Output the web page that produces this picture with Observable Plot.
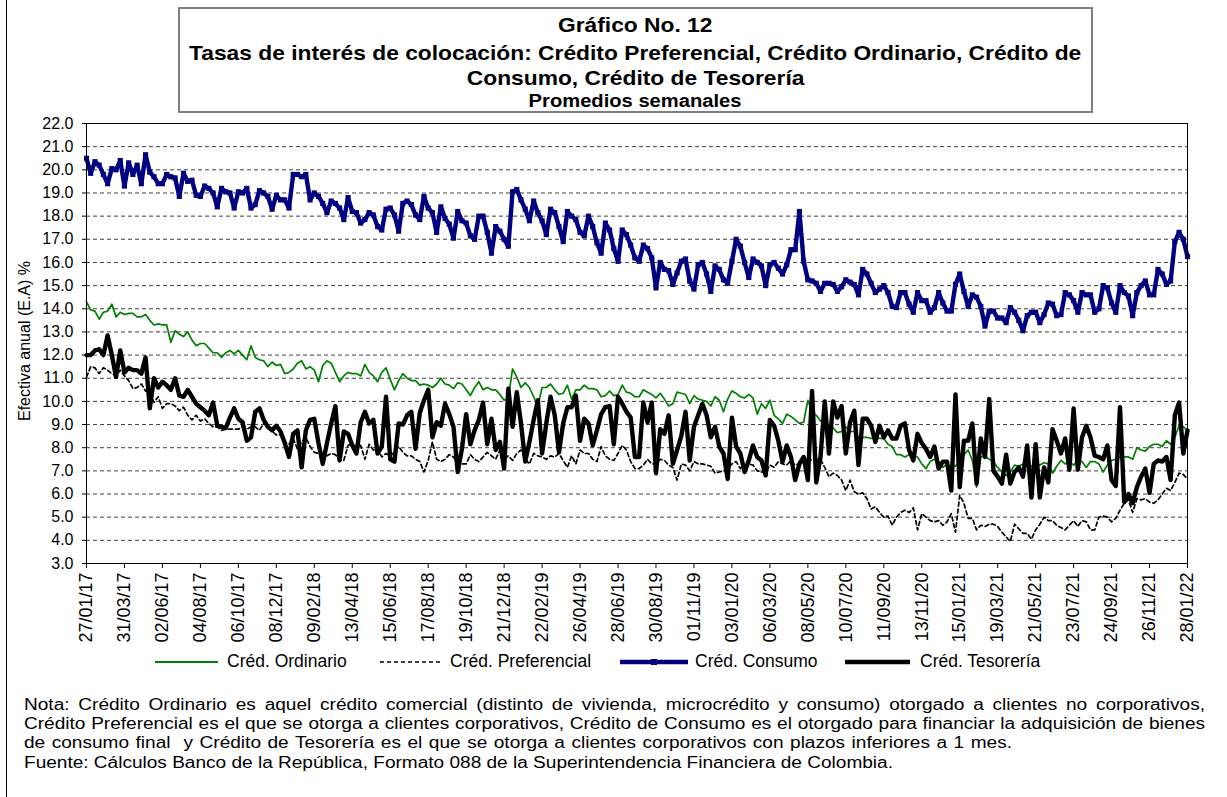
<!DOCTYPE html>
<html>
<head>
<meta charset="utf-8">
<script src="https://cdn.jsdelivr.net/npm/d3@7"></script>
<script src="https://cdn.jsdelivr.net/npm/@observablehq/plot@0.6"></script>
<style>
  body { margin: 0; background: #fff; }
  #wrap { position: relative; width: 1227px; height: 797px; overflow: hidden; background: #fff;
          font-family: "Liberation Sans", Arial, sans-serif; color: #000; }
  #chart { position: absolute; left: 0; top: 0; }
  #border { position: absolute; left: 6px; top: 0; width: 1px; height: 797px; background: #000; }
  #titlebox { position: absolute; left: 178px; top: 7px; width: 915px; height: 106px;
              border: 2px solid #7f7f7f; box-sizing: border-box; background: #fff; }
  .tl { position: absolute; left: 0; width: 100%; text-align: center; font-weight: bold;
        white-space: nowrap; line-height: 1; }
  .tl span { display: inline-block; transform-origin: center; }
  .ylab { position: absolute; left: 25px; top: 341px; transform: translate(-50%, -50%) rotate(-90deg);
          font-size: 16px; white-space: nowrap; }
  .leg { position: absolute; top: 662px; transform: translateY(-50%); font-size: 17.5px; white-space: nowrap; line-height: 1; }
  .note { position: absolute; left: 24px; font-size: 16px; line-height: 1; white-space: pre;
          transform-origin: left center; }
</style>
</head>
<body>
<div id="wrap">
  <div id="chart"></div>
  <div id="border"></div>
  <div id="titlebox"></div>
  <svg id="legsvg" width="1227" height="30" style="position:absolute;left:0;top:647px;"></svg>
  <div id="legtext"></div>
  <div class="ylab" id="ylab"></div>
  <div id="notes"></div>
</div>
<script>
// ---------- Text ----------
const titleLines = [
  "Gráfico No. 12",
  "Tasas de interés de colocación: Crédito Preferencial, Crédito Ordinario, Crédito de",
  "Consumo, Crédito de Tesorería",
  "Promedios semanales"
];
const yAxisLabel = "Efectiva anual (E.A) %";
const seriesNames = ["Créd. Ordinario", "Créd. Preferencial", "Créd. Consumo", "Créd. Tesorería"];
const noteLines = [
  "Nota: Crédito Ordinario es aquel crédito comercial (distinto de vivienda, microcrédito y consumo) otorgado a clientes no corporativos,",
  "Crédito Preferencial es el que se otorga a clientes corporativos, Crédito de Consumo es el otorgado para financiar la adquisición de bienes",
  "de consumo final  y Crédito de Tesorería es el que se otorga a clientes corporativos con plazos inferiores a 1 mes.",
  "Fuente: Cálculos Banco de la República, Formato 088 de la Superintendencia Financiera de Colombia."
];

// ---------- Axis ticks ----------
const xTickLabels = ["27/01/17","31/03/17","02/06/17","04/08/17","06/10/17","08/12/17","09/02/18","13/04/18",
  "15/06/18","17/08/18","19/10/18","21/12/18","22/02/19","26/04/19","28/06/19","30/08/19","01/11/19","03/01/20",
  "06/03/20","08/05/20","10/07/20","11/09/20","13/11/20","15/01/21","19/03/21","21/05/21","23/07/21","24/09/21",
  "26/11/21","28/01/22"];
const yTicks = [3,4,5,6,7,8,9,10,11,12,13,14,15,16,17,18,19,20,21,22];

// ---------- Weekly series (27/01/17 ... 28/01/22) ----------
const ordinario = [
  14.3,13.95,13.9,13.55,13.85,13.9,14.2,13.65,13.85,13.75,
  13.8,13.8,13.65,13.65,13.75,13.5,13.3,13.35,13.3,13.3,
  12.55,13.05,12.9,12.8,13.0,12.65,12.4,12.5,12.5,12.3,
  12.1,12.1,11.9,12.1,12.2,12.05,12.2,12.0,11.8,12.4,
  11.9,11.8,11.75,11.5,11.7,11.55,11.6,11.2,11.25,11.4,
  11.65,11.75,11.4,11.5,11.35,10.85,11.55,11.75,11.65,11.25,
  10.85,11.1,11.25,11.2,11.2,11.1,11.6,11.25,11.1,10.85,
  11.25,11.45,10.95,10.5,10.9,11.2,11.0,10.9,10.9,10.7,
  10.75,10.7,10.6,10.75,11.0,10.75,10.7,10.55,10.8,10.75,
  10.5,10.25,10.6,10.85,10.5,10.6,10.5,10.5,10.3,10.05,
  10.15,11.4,11.05,10.6,10.8,10.6,10.2,9.8,10.6,10.6,
  10.75,10.5,10.3,10.35,10.7,10.1,10.5,10.5,10.7,10.55,
  10.55,10.5,10.2,10.25,10.45,10.25,10.3,10.7,10.4,10.35,
  10.2,10.2,10.5,10.4,10.3,10.15,10.35,10.1,9.8,9.9,
  10.4,10.35,10.3,9.9,10.25,10.1,10.05,10.0,9.8,10.2,
  10.05,9.55,10.1,10.45,10.35,10.2,10.15,10.3,10.15,9.45,
  9.9,9.7,10.05,9.4,9.25,9.05,9.45,9.35,9.2,9.05,
  9.1,10.05,9.55,9.4,9.15,9.05,8.95,8.85,8.65,8.7,
  8.9,8.7,8.7,8.45,8.45,8.45,8.4,8.45,8.4,8.4,
  8.15,8.05,7.7,7.7,7.6,7.7,7.65,7.6,7.3,7.1,
  7.4,7.5,7.4,7.15,7.3,7.15,7.2,7.5,7.7,7.9,
  7.45,6.3,7.6,7.65,7.5,7.4,7.15,6.95,6.8,6.95,
  7.25,7.2,7.3,7.25,7.2,7.3,7.25,7.35,7.3,6.9,
  7.2,7.45,7.3,7.4,7.25,7.45,7.4,7.15,7.4,7.4,
  7.3,6.95,7.25,7.45,7.5,7.6,7.6,7.6,7.5,8.0,
  7.9,7.85,8.05,8.15,8.15,8.05,8.3,8.15,8.45,8.95,
  8.9,8.75
];
const preferencial = [
  11.05,11.5,11.45,11.2,11.45,11.35,11.2,11.1,11.35,11.1,
  10.9,10.55,10.6,10.75,10.45,10.4,9.95,10.2,9.7,9.9,
  9.9,9.8,9.6,9.75,9.4,9.2,9.4,9.15,9.25,9.05,
  8.9,8.9,8.75,8.8,8.8,8.8,8.8,8.9,8.8,8.9,
  8.9,8.75,9.05,8.95,8.7,8.55,8.55,8.25,8.15,8.4,
  7.95,8.25,8.45,8.05,7.8,7.75,7.65,7.65,7.75,7.7,
  7.45,7.45,8.1,8.15,8.05,8.1,7.5,8.15,7.9,7.95,
  7.6,7.75,7.65,7.8,8.05,7.8,7.65,7.65,7.5,7.4,
  6.95,7.45,8.25,7.5,7.4,7.5,7.7,7.6,7.3,7.3,
  7.3,7.7,7.5,7.4,7.6,7.8,7.65,7.5,7.9,7.5,
  7.65,7.45,7.75,7.9,7.5,7.3,7.75,7.65,7.6,7.5,
  7.65,7.6,7.75,7.45,7.15,7.65,7.3,7.9,7.75,7.75,
  7.5,7.4,8.05,7.65,7.5,7.45,7.75,8.1,7.9,7.4,
  7.1,7.1,7.25,7.5,7.3,7.3,7.5,7.45,7.25,7.15,
  6.6,7.3,7.25,7.0,7.4,7.3,7.3,7.25,7.2,6.9,
  6.95,7.0,7.1,7.3,7.4,7.1,7.25,7.3,7.25,7.0,
  6.95,6.9,7.25,7.15,7.4,7.3,7.25,7.45,7.25,7.3,
  7.4,7.6,7.45,7.5,7.5,7.15,6.75,6.9,6.8,6.6,
  6.15,6.6,6.1,6.0,6.05,5.8,5.35,5.45,5.2,5.0,
  5.05,4.65,5.0,5.2,5.3,5.2,5.4,4.45,5.15,5.0,
  4.85,4.8,4.85,4.65,4.8,5.15,4.35,5.95,5.6,4.95,
  4.95,4.45,4.65,4.6,4.7,4.7,4.6,4.35,4.15,3.95,
  4.7,4.5,4.3,4.3,4.05,4.45,4.7,5.0,4.85,4.85,
  4.65,4.55,4.45,4.65,4.85,4.6,4.85,4.8,4.45,4.45,
  5.0,5.05,5.0,4.8,4.95,5.3,5.6,5.75,5.2,5.8,
  5.75,5.8,5.65,5.6,5.75,6.0,6.25,6.15,6.5,6.9,
  6.85,6.65
];
const consumo = [
  20.5,19.85,20.35,20.2,19.8,19.4,20.05,20.0,20.4,19.3,
  20.3,19.8,20.2,19.4,20.65,19.9,19.7,19.4,19.4,19.8,
  19.7,19.65,18.85,19.85,19.5,19.55,18.9,18.85,19.3,19.2,
  19.0,18.4,19.2,19.05,19.0,18.35,19.05,19.0,19.2,18.35,
  18.5,19.1,19.0,18.85,18.3,18.9,18.7,18.7,18.35,19.8,
  19.8,19.7,19.8,18.7,19.0,18.85,18.55,18.15,18.65,18.55,
  18.35,17.85,18.8,18.2,18.15,17.7,17.85,18.15,18.05,17.55,
  17.4,18.3,18.35,18.05,17.35,18.55,18.65,18.5,18.05,17.85,
  18.85,18.35,18.15,17.3,18.4,17.9,17.65,17.05,18.2,17.8,
  17.7,17.15,17.0,18.0,18.0,17.3,16.4,17.55,17.35,17.0,
  16.7,19.05,19.15,18.7,18.3,17.8,18.65,18.15,17.8,17.2,
  18.3,18.15,17.55,16.9,18.2,18.0,17.85,17.3,17.15,18.0,
  17.55,16.85,16.4,17.7,17.4,16.6,16.05,17.4,17.2,16.75,
  16.2,16.05,16.75,16.6,16.2,14.9,16.0,15.7,15.65,15.05,
  15.55,16.05,16.15,15.2,14.85,15.9,16.0,15.5,14.75,15.85,
  15.7,15.25,15.1,16.05,17.0,16.7,16.0,15.35,16.15,16.0,
  15.85,15.0,15.9,16.0,15.75,15.5,15.9,16.55,16.55,18.2,
  16.05,15.25,15.2,15.1,14.75,15.1,15.1,15.05,14.75,14.95,
  15.25,15.15,15.05,14.6,15.7,15.5,15.1,14.7,14.85,15.0,
  14.7,14.1,14.05,14.7,14.7,14.2,13.85,14.7,14.35,14.35,
  13.85,14.05,14.7,14.25,13.9,13.9,15.05,15.5,14.75,14.1,
  14.6,14.5,14.1,13.25,13.9,13.9,13.6,13.6,13.4,14.05,
  13.85,13.5,13.05,13.7,13.85,13.85,13.4,13.75,14.25,14.2,
  13.7,13.75,14.7,14.6,14.35,13.85,14.7,14.6,14.6,13.85,
  14.0,15.0,14.9,14.25,13.85,15.0,14.7,14.55,13.7,14.7,
  15.0,15.2,14.6,14.6,15.7,15.5,15.05,15.2,16.9,17.3,
  17.0,16.25
];
const tesoreria = [
  12.0,12.0,12.2,12.25,12.0,12.85,12.0,11.05,12.2,11.25,
  11.45,11.35,11.35,11.2,11.9,9.7,11.0,10.6,10.85,10.7,
  10.5,11.0,10.25,10.2,10.5,10.2,9.9,9.75,9.6,9.4,
  9.95,8.95,8.9,8.85,9.3,9.7,9.25,9.1,8.3,8.45,
  9.55,9.7,9.2,8.9,8.75,8.95,8.7,8.2,7.6,8.6,
  8.75,7.15,8.75,9.2,9.25,8.2,7.3,8.2,9.05,9.8,
  7.45,8.7,8.6,8.1,7.75,9.1,9.55,9.05,9.2,7.75,
  8.05,10.2,7.5,7.4,9.05,9.0,9.4,9.55,7.95,9.5,
  10.05,10.5,8.45,9.1,8.95,9.9,9.45,8.9,6.95,7.95,
  9.45,8.15,8.75,9.2,9.95,8.15,9.25,7.9,8.25,7.1,
  10.55,8.9,10.4,9.05,7.4,8.25,9.2,10.05,7.75,9.05,
  10.2,9.4,7.8,9.05,9.75,9.75,10.25,8.3,9.25,9.05,
  8.1,8.75,9.45,9.75,9.8,8.15,10.2,9.9,9.55,9.3,
  7.6,7.6,9.95,9.1,9.95,6.9,8.8,8.6,9.4,7.3,
  7.9,8.5,9.55,7.45,8.9,9.4,9.9,9.4,8.45,8.9,
  8.05,7.75,6.65,9.3,8.05,7.75,6.95,7.45,8.1,7.6,
  7.45,6.8,9.2,8.95,8.3,7.4,8.1,7.6,6.6,7.3,
  7.6,6.6,10.45,6.5,7.6,10.0,7.75,10.0,9.3,9.8,
  7.75,9.1,9.6,7.25,9.25,9.25,8.95,8.25,8.95,8.45,
  8.75,8.4,8.4,8.95,9.05,7.9,7.45,8.6,8.2,7.95,
  7.6,8.05,7.1,7.4,7.4,6.15,10.3,6.3,8.3,8.3,
  9.05,6.45,8.4,7.6,10.1,7.0,6.75,6.45,7.7,6.45,
  6.95,7.15,6.75,8.1,5.85,8.15,5.85,7.15,6.5,8.8,
  8.3,7.75,8.4,7.05,9.7,7.05,8.45,8.95,8.45,7.65,
  7.6,7.5,8.1,6.6,6.35,9.75,5.65,6.0,5.6,6.3,
  6.75,7.1,6.05,7.3,7.45,7.4,7.6,6.6,9.4,9.95,
  7.75,8.75
];

// ---------- Colours ----------
const colors = { ordinario: "#008000", preferencial: "#000000", consumo: "#000080", tesoreria: "#000000" };

// ---------- Build table ----------
const parse = d3.utcParse("%d/%m/%y");
const fmt = d3.utcFormat("%d/%m/%y");
const start = parse(xTickLabels[0]);
const dates = consumo.map((_, i) => d3.utcDay.offset(start, 7 * i));
const tickDates = xTickLabels.map(parse);
const rows = (vals) => vals.map((v, i) => ({ date: dates[i], value: v }));
const ordRows = rows(ordinario), prefRows = rows(preferencial), consRows = rows(consumo), tesRows = rows(tesoreria);

const font = '"Liberation Sans", Arial, sans-serif';
const chart = Plot.plot({
  width: 1227, height: 650,
  marginLeft: 86, marginRight: 40, marginTop: 123, marginBottom: 87,
  style: { fontFamily: font, fontSize: "14px", color: "#000", background: "transparent", overflow: "visible" },
  x: { type: "utc", domain: [dates[0], dates[dates.length - 1]] },
  y: { domain: [3, 22] },
  marks: [
    Plot.ruleY(yTicks.slice(1, -1), { stroke: "#000", strokeOpacity: 0.75, strokeDasharray: "4,3", strokeWidth: 1 }),
    Plot.axisY({ ticks: yTicks, tickFormat: d3.format(".1f"), tickSize: 4, tickPadding: 9, label: null }),
    Plot.axisX({ ticks: tickDates, tickFormat: fmt, tickRotate: -90, tickSize: 5, tickPadding: 4, label: null }),
    Plot.line(ordRows, { x: "date", y: "value", stroke: colors.ordinario, strokeWidth: 1.7 }),
    Plot.line(prefRows, { x: "date", y: "value", stroke: colors.preferencial, strokeWidth: 1.7, strokeDasharray: "4,3" }),
    Plot.line(consRows, { x: "date", y: "value", stroke: colors.consumo, strokeWidth: 4.4, strokeLinejoin: "round" }),
    Plot.dot(consRows, { x: "date", y: "value", symbol: "square", r: 2.9, fill: colors.consumo, stroke: null }),
    Plot.line(tesRows, { x: "date", y: "value", stroke: colors.tesoreria, strokeWidth: 4.4, strokeLinejoin: "round" }),
    Plot.frame({ stroke: "#000", strokeWidth: 1 })
  ]
});
// tick label font sizes per axis
d3.select(chart).selectAll("g[aria-label='y-axis tick label']").attr("font-size", 16);
d3.select(chart).selectAll("g[aria-label='x-axis tick label']").attr("font-size", 18);
document.getElementById("chart").appendChild(chart);

// ---------- Title ----------
const tb = document.getElementById("titlebox");
const tPos = [{ c: 15, s: 21, k: 1.085 }, { c: 43, s: 21, k: 1.085 }, { c: 68, s: 21, k: 1.085 }, { c: 92, s: 18, k: 1.12 }];
titleLines.forEach((t, i) => {
  const d = document.createElement("div");
  d.className = "tl";
  d.style.fontSize = tPos[i].s + "px";
  d.style.top = (tPos[i].c - tPos[i].s / 2) + "px";
  const sp = document.createElement("span");
  sp.textContent = t;
  sp.style.transform = `scaleX(${tPos[i].k})`;
  d.appendChild(sp);
  tb.appendChild(d);
});

document.getElementById("ylab").textContent = yAxisLabel;

// ---------- Legend ----------
const ls = d3.select("#legsvg");
const ly = 15;
const legItems = [
  { x0: 155, x1: 218, tx: 227, stroke: colors.ordinario, w: 2, dash: null, marker: false },
  { x0: 380, x1: 441, tx: 450, stroke: colors.preferencial, w: 1.7, dash: "4,3", marker: false },
  { x0: 620, x1: 688, tx: 695, stroke: colors.consumo, w: 4.4, dash: null, marker: true },
  { x0: 845, x1: 910, tx: 920, stroke: colors.tesoreria, w: 4.6, dash: null, marker: false }
];
legItems.forEach((it, i) => {
  ls.append("line").attr("x1", it.x0).attr("x2", it.x1).attr("y1", ly).attr("y2", ly)
    .attr("stroke", it.stroke).attr("stroke-width", it.w).attr("stroke-dasharray", it.dash);
  if (it.marker) ls.append("rect").attr("x", (it.x0 + it.x1) / 2 - 3).attr("y", ly - 3).attr("width", 6).attr("height", 6).attr("fill", it.stroke);
  const d = document.createElement("div");
  d.className = "leg";
  d.style.left = it.tx + "px";
  d.textContent = seriesNames[i];
  document.getElementById("legtext").appendChild(d);
});

// ---------- Notes (line widths matched to the reference) ----------
const noteScale = 1.19;
const noteWidths = [1181, 1181, 988, null];
const nTop = [697, 716, 735, 755];
noteLines.forEach((t, i) => {
  const d = document.createElement("div");
  d.className = "note";
  d.style.top = nTop[i] + "px";
  d.textContent = t;
  d.style.transform = `scaleX(${noteScale})`;
  document.getElementById("notes").appendChild(d);
  if (noteWidths[i]) {
    const natural = d.getBoundingClientRect().width / noteScale;
    const spaces = (t.match(/ /g) || []).length;
    const extra = (noteWidths[i] / noteScale - natural) / spaces;
    d.style.wordSpacing = extra + "px";
  }
});
</script>
</body>
</html>
